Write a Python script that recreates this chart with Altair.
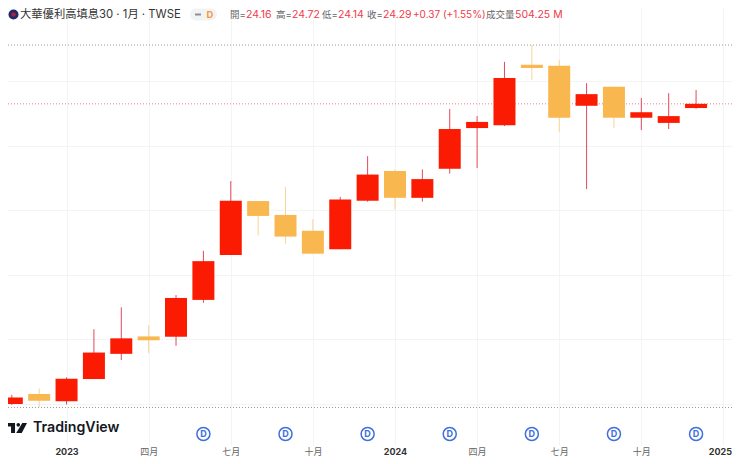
import altair as alt
import pandas as pd

# months since Nov 2022, candle values
month = list(range(26))
open_ = [15.00, 15.31, 15.08, 15.77, 16.55, 17.09, 17.08, 18.22, 19.61, 21.28, 20.85, 20.36, 19.79,
         21.29, 22.21, 21.38, 22.28, 23.54, 23.63, 25.50, 25.47, 24.23, 24.82, 23.86, 23.70, 24.16]
close = [15.20, 15.10, 15.78, 16.59, 17.03, 16.97, 18.28, 19.42, 21.29, 20.82, 20.18, 19.65, 21.33,
         22.10, 21.38, 21.96, 23.51, 23.73, 25.09, 25.40, 23.86, 24.59, 23.86, 24.03, 23.91, 24.29]
high = [15.28, 15.48, 15.82, 17.31, 17.99, 17.44, 18.37, 19.74, 21.90, 21.28, 21.72, 20.72, 21.41,
        22.67, 22.26, 22.26, 24.13, 23.91, 25.59, 26.11, 25.65, 24.93, 24.82, 24.47, 24.62, 24.72]
low = [14.97, 14.89, 14.98, 15.77, 16.36, 16.57, 16.80, 18.13, 19.61, 20.21, 19.96, 19.65, 19.79,
       21.26, 21.01, 21.26, 22.13, 22.30, 23.60, 25.03, 23.42, 21.65, 23.54, 23.48, 23.51, 24.14]

tick_months = [2, 5, 8, 11, 14, 17, 20, 23, 26]
tick_labels = ["2023", "四月", "七月", "十月", "2024", "四月", "七月", "十月", "2025"]
grid_prices = list(range(15, 27))
dividend_months = [7, 10, 13, 16, 19, 22, 25]

# header: text, colour, left edge
header = [
    ("大華優利高填息30 · 1月 · TWSE", "#333333", 20, 11.3),
    ("開=", "#666666", 230, 9.5), ("24.16", "#ef3b4a", 246, 10.5),
    ("高=", "#666666", 276, 9.5), ("24.72", "#ef3b4a", 292, 10.5),
    ("低=", "#666666", 322, 9.5), ("24.14", "#ef3b4a", 338, 10.5),
    ("收=", "#666666", 367, 9.5), ("24.29", "#ef3b4a", 383, 10.5),
    ("+0.37 (+1.55%)", "#ef3b4a", 413, 10),
    ("成交量", "#666666", 486, 9.5), ("504.25 M", "#ef3b4a", 515, 10.5),
]

FONT = "Inter, 'Noto Sans CJK TC'"
RED = "#fb1a02"
ORANGE = "#f9b750"
HEADER_Y = 14.5

source = pd.DataFrame({"month": month, "open": open_, "close": close, "high": high, "low": low})
source["dir"] = ["up" if c >= o else "down" for o, c in zip(open_, close)]

# 27.37 px per month, 32.3 px per price unit
x_scale = alt.Scale(domain=[-0.139, 26.313], nice=False, zero=False, padding=0)
y_scale = alt.Scale(domain=[13.728, 27.257], nice=False, zero=False, padding=0)
x_enc = alt.X("month:Q", scale=x_scale, title=None)


def page_x(v):
    return alt.value(v - 8)


def page_y(v):
    return alt.value(v - 8)


label_expr = "[" + ",".join("'%s'" % t for t in tick_labels) + "][(datum.value-2)/3]"

grid = alt.Chart(source).mark_point(opacity=0).encode(
    x=alt.X("month:Q", scale=x_scale, title=None, axis=alt.Axis(
        values=tick_months, labelExpr=label_expr, grid=True, gridColor="#f4f4f4", gridWidth=1,
        domain=False, ticks=False, labelPadding=2, labelFontSize=9, labelFont=FONT,
        labelAlign={"condition": {"test": "datum.value==26", "value": "right"}, "value": "center"},
        labelOffset={"condition": {"test": "datum.value==26", "value": 8}, "value": 0},
        labelColor={"condition": {"test": "(datum.value-2)%12==0", "value": "#333333"}, "value": "#666666"},
        labelFontWeight={"condition": {"test": "(datum.value-2)%12==0", "value": "bold"}, "value": "normal"},
    )),
    y=alt.Y("close:Q", scale=y_scale, title=None, axis=alt.Axis(
        values=grid_prices, grid=True, gridColor="#f4f4f4", gridWidth=1,
        labels=False, domain=False, ticks=False,
    )),
)

body_color = alt.Color("dir:N", scale=alt.Scale(domain=["up", "down"], range=[RED, ORANGE]), legend=None)

wicks = alt.Chart(source).mark_rule(strokeWidth=1).encode(
    x=x_enc, y=alt.Y("low:Q", scale=y_scale, title=None), y2="high:Q",
    stroke=alt.Stroke("dir:N", scale=alt.Scale(domain=["up", "down"], range=["#e5485c", "#f7d592"]), legend=None),
)
bodies = alt.Chart(source).mark_bar(size=22).encode(
    x=x_enc, y=alt.Y("open:Q", scale=y_scale, title=None), y2="close:Q", color=body_color,
)

levels = pd.DataFrame({"price": [max(high), min(low)]})
extremes = alt.Chart(levels).mark_rule(color="#9a9a9a", strokeWidth=1, strokeDash=[1, 2]).encode(
    y=alt.Y("price:Q", scale=y_scale, title=None),
)
last = alt.Chart(pd.DataFrame({"price": [close[-1]]})).mark_rule(
    color="#ec7f8c", strokeWidth=1, strokeDash=[1, 2]
).encode(y=alt.Y("price:Q", scale=y_scale, title=None))

div_df = pd.DataFrame({"month": dividend_months})
div_ring = alt.Chart(div_df).mark_point(
    shape="circle", size=170, filled=True, fill="#ffffff", stroke="#3f6fde", strokeWidth=1.5, opacity=1
).encode(x=x_enc, y=page_y(434))
div_text = alt.Chart(div_df).mark_text(
    text="D", color="#3f6fde", fontSize=9, fontWeight="bold", font=FONT
).encode(x=x_enc, y=page_y(434))

one = alt.Data(values=[{}])
header_layers = [
    alt.Chart(one).mark_text(align="left", baseline="middle", font=FONT, fontSize=size, color=col, text=txt).encode(
        x=page_x(left), y=page_y(HEADER_Y)
    )
    for txt, col, left, size in header
]

logo_ring = alt.Chart(one).mark_point(
    shape="circle", size=100, filled=True, fill="#1d2a6b", opacity=1, strokeWidth=0
).encode(x=page_x(13.5), y=page_y(HEADER_Y))
logo_dot = alt.Chart(one).mark_point(
    shape="circle", size=22, filled=True, fill="#a8213f", opacity=1, strokeWidth=0
).encode(x=page_x(13.5), y=page_y(HEADER_Y))
pill = alt.Chart(one).mark_rect(color="#f1f3f5", cornerRadius=6).encode(
    x=page_x(190), x2=page_x(217), y=page_y(HEADER_Y - 6), y2=page_y(HEADER_Y + 6)
)
pill_dash = alt.Chart(one).mark_rule(color="#8a8f98", strokeWidth=2).encode(
    x=page_x(195), x2=page_x(201), y=page_y(HEADER_Y)
)
pill_d = alt.Chart(one).mark_text(text="D", color="#f59a3a", fontSize=9.5, font=FONT, fontWeight="bold").encode(
    x=page_x(210), y=page_y(HEADER_Y)
)

tv_glyph = alt.Chart(one).mark_point(
    shape="M-1,-0.476 L-0.14,-0.476 L-0.14,0.476 L-0.52,0.476 L-0.52,-0.14 L-1,-0.14 Z "
          "M0.55,-0.476 L1,-0.476 L0.5,0.476 L-0.03,0.476 Z "
          "M0,-0.3 A0.17,0.17 0 1 0 0.34,-0.3 A0.17,0.17 0 1 0 0,-0.3 Z",
    size=441, filled=True, fill="#131722", opacity=1, strokeWidth=0,
).encode(x=page_x(16.5), y=page_y(428))
tv_text = alt.Chart(one).mark_text(
    text="TradingView", align="left", baseline="middle", color="#131722", fontSize=14.2, fontWeight=600, font=FONT
).encode(x=page_x(33), y=page_y(428))

chart = alt.layer(
    grid, extremes, last, wicks, bodies, div_ring, div_text, tv_glyph, tv_text,
    logo_ring, logo_dot, pill, pill_dash, pill_d, *header_layers,
).properties(
    width=724,
    height=437,
    padding={"left": 0, "top": 0, "right": 0, "bottom": 11},
    autosize=alt.AutoSizeParams(type="none"),
).configure_view(
    strokeWidth=0
)

chart.save("out.html", embed_options={"renderer": "svg", "actions": False})
